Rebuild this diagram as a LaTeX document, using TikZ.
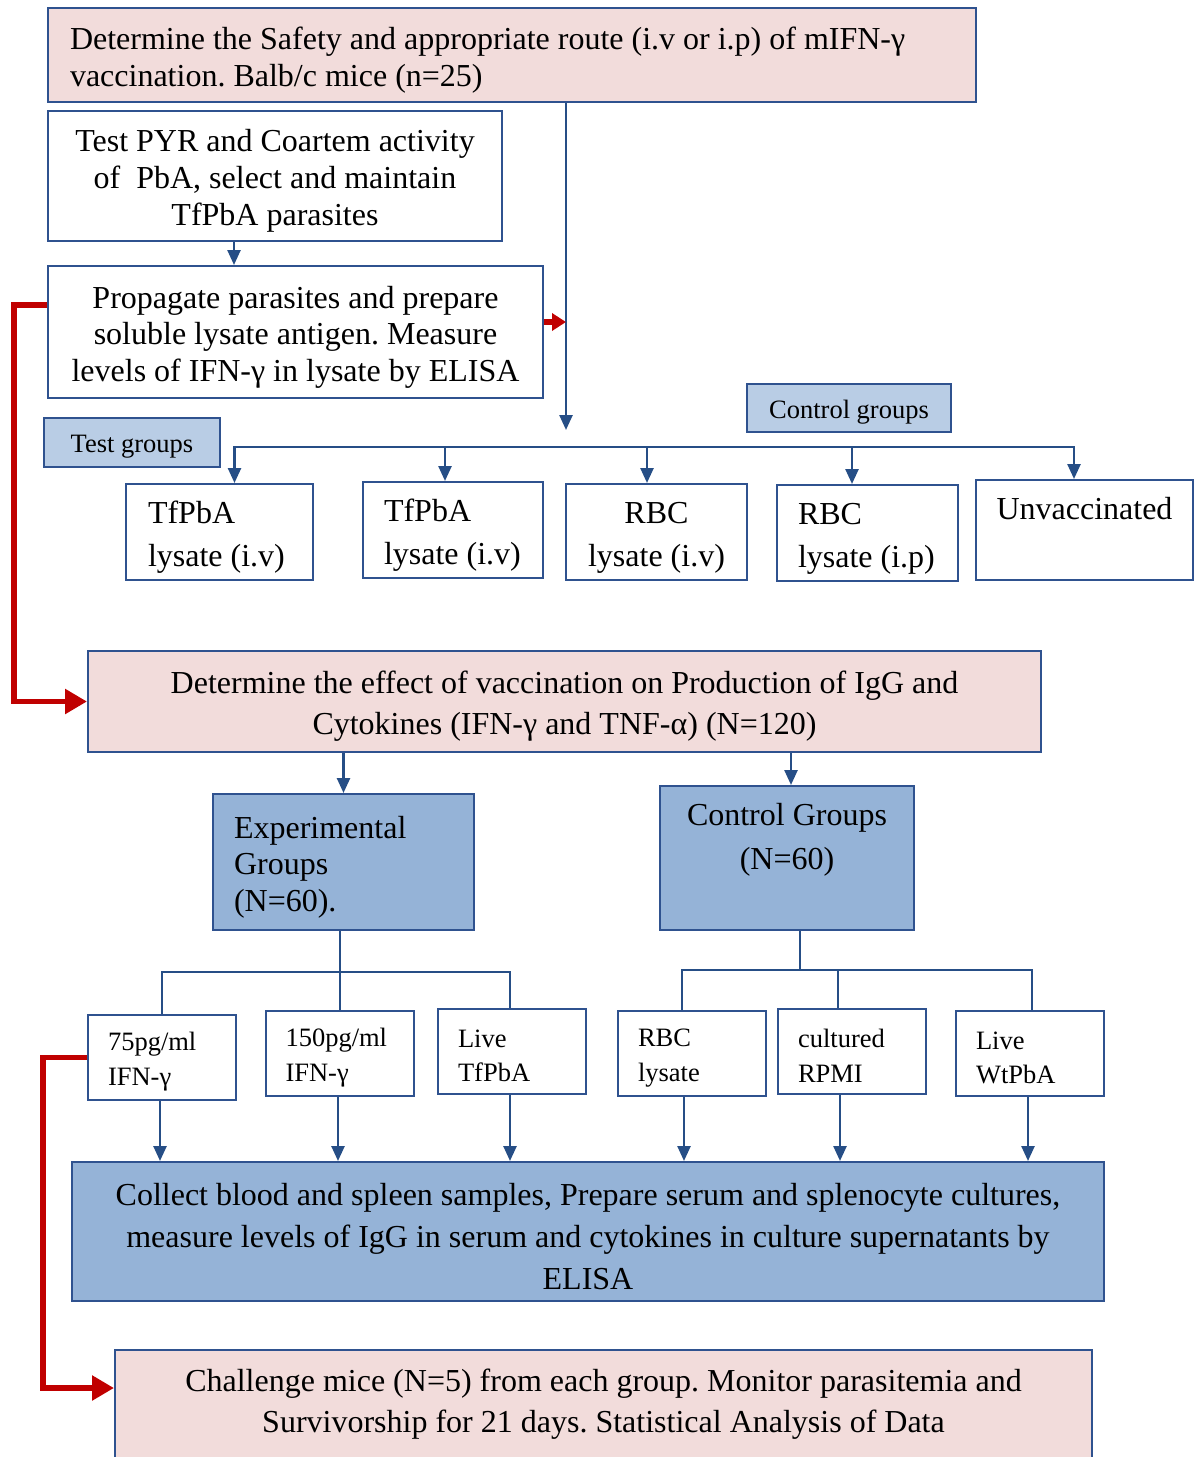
\documentclass[tikz,border=0pt]{standalone}
\usepackage{fontspec}
\setmainfont{Liberation Serif}
\frenchspacing
\usetikzlibrary{arrows.meta}
\definecolor{boxline}{HTML}{2F528F}
\definecolor{arrowblue}{HTML}{264E86}
\definecolor{pinkfill}{HTML}{F2DCDB}
\definecolor{bluefill}{HTML}{95B3D7}
\definecolor{tagfill}{HTML}{B9CDE5}
\definecolor{redline}{HTML}{C00000}
\newcommand\fsz[2]{\fontsize{#1}{#2}\selectfont}
\newcommand\tallstrut{\rule{0pt}{1em}}
\tikzset{
  box/.style={draw=boxline, line width=2pt, inner sep=0pt, font=\fsz{32}{37},
    execute at begin node=\tallstrut},
  nostrut/.style={execute at begin node={}},
  pinkbox/.style={box, fill=pinkfill},
  bluebox/.style={box, fill=bluefill},
  tagbox/.style={box, fill=tagfill, font=\fsz{26.5}{32}},
  grpbox/.style={box, font=\fsz{32}{43}, minimum height=96pt, align=flush left},
  smallbox/.style={box, font=\fsz{26.5}{34.5}, text width=108pt, align=flush left,
    minimum width=148pt, minimum height=85pt},
  flow/.style={draw=arrowblue, line width=2.5pt, -{Triangle[width=13pt,length=15pt]}},
  link/.style={draw=arrowblue, line width=2.5pt},
  redflow/.style={draw=redline, line width=5.5pt, -{Triangle[width=24pt,length=22pt]}},
  redsmall/.style={draw=redline, line width=6pt, -{Triangle[width=17pt,length=14pt]}},
}
\begin{document}
\begin{tikzpicture}[x=1pt, y=-1pt]
    \useasboundingbox (0,0) rectangle (1195,1457);
    % Vorversuche
    \node[pinkbox, minimum width=928pt, minimum height=94pt, text width=884pt, align=flush left] (top) at (512,55)
      {Determine the Safety and appropriate route (i.v or i.p) of mIFN-γ\\ vaccination. Balb/c mice (n=25)};
    \node[box, minimum width=454pt, minimum height=130pt, text width=444pt, align=flush center] (pyr) at (275,176)
      {Test PYR and Coartem activity\\ of\ \ PbA, select and maintain\\ TfPbA parasites};
    \node[box, minimum width=495pt, minimum height=132pt, text width=485pt, align=flush center, font=\fsz{32}{36.5}] (prop) at (295.5,332)
      {Propagate parasites and prepare\\ soluble lysate antigen. Measure\\ levels of IFN-γ in lysate by ELISA};
    \node[tagbox, minimum width=176pt, minimum height=49pt] (testg) at (132,442.5) {Test groups};
    \node[tagbox, minimum width=204pt, minimum height=48pt] (ctrlg) at (849,408) {Control groups};

    % Gruppen
    \node[grpbox, minimum width=187pt, text width=143pt] (g1) at (219.5,532) {TfPbA\\ lysate~(i.v)};
    \node[grpbox, minimum width=180pt, text width=138pt] (g2) at (453,530) {TfPbA\\ lysate~(i.v)};
    \node[grpbox, minimum width=181pt, text width=171pt, align=flush center] (g3) at (656.5,532) {RBC\\ lysate~(i.v)};
    \node[grpbox, minimum width=181pt, text width=139pt] (g4) at (867.5,533) {RBC\\ lysate~(i.p)};
    \node[grpbox, nostrut, minimum width=217pt, minimum height=100pt, align=center] (g5) at (1084.5,530) {Unvaccinated\\ \mbox{}};

    % Impfung
    \node[pinkbox, minimum width=953pt, minimum height=101pt, text width=943pt, align=flush center, font=\fsz{32}{41}] (effect) at (564.5,701.5)
      {Determine the effect of vaccination on Production of IgG and\\ Cytokines (IFN-γ and TNF-α) (N=120)};
    \node[bluebox, minimum width=261pt, minimum height=136pt, text width=219pt, align=flush left, font=\fsz{32}{36.5}] (exp) at (343.5,862)
      {Experimental\\ Groups\\ (N=60).};
    \node[bluebox, nostrut, minimum width=254pt, minimum height=144pt, align=center, font=\fsz{32}{44}] (ctrl) at (787,858)
      {Control Groups\\ (N=60)\\ \mbox{}};

    \node[smallbox] (b1) at (162,1057.5) {75pg/ml\\ IFN-γ};
    \node[smallbox] (b2) at (339.5,1053.5) {150pg/ml\\ IFN-γ};
    \node[smallbox] (b3) at (512,1051.5) {Live\\ TfPbA};
    \node[smallbox] (b4) at (692,1053.5) {RBC\\ lysate};
    \node[smallbox] (b5) at (852,1051.5) {cultured\\ RPMI};
    \node[smallbox] (b6) at (1030,1053.5) {Live\\ WtPbA};

    \node[bluebox, minimum width=1032pt, minimum height=139pt, text width=1022pt, align=flush center, font=\fsz{32}{42}] (coll) at (588,1231.5)
      {Collect blood and spleen samples, Prepare serum and splenocyte cultures,\\ measure levels of IgG in serum and cytokines in culture supernatants by\\ ELISA};
    \node[pinkbox, nostrut, minimum width=977pt, minimum height=142pt, align=center, font=\fsz{32}{41}] (chal) at (603.5,1421)
      {Challenge mice (N=5) from each group. Monitor parasitemia and\\ Survivorship for 21 days. Statistical Analysis of Data\\ \mbox{}};

    % Pfeile oben
    \coordinate (pyrOut) at ([xshift=-41pt]pyr.south);
    \draw[flow] (pyrOut) -- (pyrOut |- prop.north);
    \coordinate (topOut) at ([xshift=54pt]top.south);
    \coordinate (busEnd) at (566,430);
    \draw[flow] (topOut) -- (busEnd);
    \coordinate (redHit) at (566,322);
    \draw[redsmall] (prop.east |- redHit) -- (redHit);
    \coordinate (bus) at (647,447);
    \foreach \n/\dx in {g1/15,g2/-8,g3/-9.5,g4/-15.5,g5/-10.5}
      \draw[flow] (bus) -| ([xshift=\dx pt]\n.north);

    % rote Verbindungen
    \draw[redflow] ([yshift=27pt]prop.west) -- ++(-33,0) |- (effect.west);
    \draw[redflow] (b1.west) -- ++(-44,0) |- ([yshift=33pt]chal.west);

    % Baum unten
    \draw[flow] (exp.north |- effect.south) -- (exp.north);
    \coordinate (e2) at ([xshift=4pt]ctrl.north);
    \draw[flow] (e2 |- effect.south) -- (e2);
    \coordinate (ebus) at (340,972);
    \draw[link] ([xshift=-3.5pt]exp.south) -- (ebus);
    \draw[link] (ebus) -| (b1.north);
    \draw[link] (ebus) -| ([xshift=-2pt]b3.north);
    \draw[link] (ebus) -- (ebus |- b2.north);
    \coordinate (cbus) at (800,970);
    \draw[link] ([xshift=13pt]ctrl.south) -- (cbus);
    \draw[link] (cbus) -| ([xshift=-10pt]b4.north);
    \draw[link] (cbus) -| ([xshift=-14pt]b5.north);
    \draw[link] (cbus) -| ([xshift=2pt]b6.north);
    \foreach \n/\dx in {b1/-2,b2/-1.5,b3/-2,b4/-8,b5/-12,b6/-2} {
      \coordinate (tmp) at ([xshift=\dx pt]\n.south);
      \draw[flow] (tmp) -- (tmp |- coll.north);
    }
\end{tikzpicture}
\end{document}
